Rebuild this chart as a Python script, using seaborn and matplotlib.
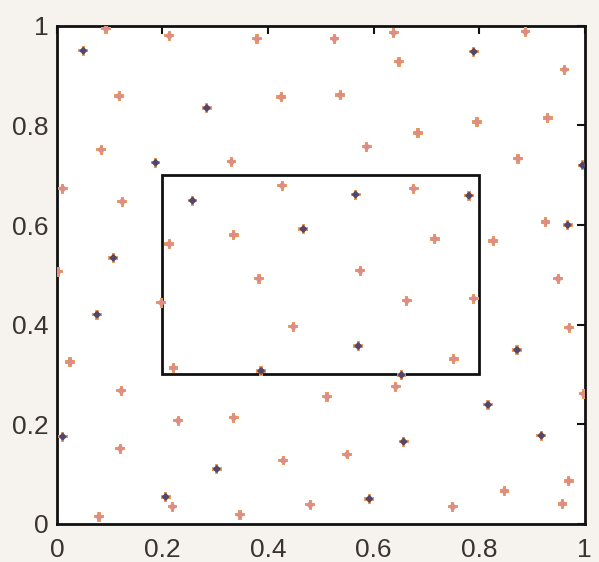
import pandas as pd
import numpy as np
import seaborn as sns
import matplotlib.pyplot as plt
from matplotlib.patches import Rectangle

# point coordinates
light_x = [0.093, 0.213, 0.379, 0.526, 0.638, 0.888, 0.648, 0.962, 0.118, 0.425,
           0.537, 0.796, 0.684, 0.930, 0.084, 0.331, 0.587, 0.874, 0.011, 0.124,
           0.427, 0.676, 0.335, 0.213, 0.716, 0.827, 0.926, 0.002, 0.383, 0.575,
           0.950, 0.198, 0.663, 0.790, 0.448, 0.971, 0.025, 0.221, 0.752, 0.642,
           0.998, 0.512, 0.122, 0.230, 0.335, 0.120, 0.429, 0.550, 0.970, 0.848,
           0.219, 0.080, 0.347, 0.480, 0.750, 0.958]
light_y = [0.994, 0.980, 0.974, 0.974, 0.986, 0.988, 0.928, 0.912, 0.859, 0.857,
           0.861, 0.807, 0.785, 0.815, 0.751, 0.727, 0.757, 0.733, 0.673, 0.647,
           0.679, 0.673, 0.580, 0.562, 0.572, 0.568, 0.606, 0.506, 0.492, 0.508,
           0.492, 0.444, 0.448, 0.452, 0.396, 0.394, 0.325, 0.313, 0.331, 0.275,
           0.261, 0.255, 0.267, 0.207, 0.213, 0.151, 0.127, 0.139, 0.086, 0.066,
           0.034, 0.014, 0.018, 0.038, 0.034, 0.040]

dark_x = [0.050, 0.790, 0.284, 0.187, 0.996, 0.257, 0.566, 0.781, 0.467, 0.968,
          0.107, 0.076, 0.571, 0.872, 0.387, 0.653, 0.817, 0.011, 0.303, 0.657,
          0.918, 0.206, 0.592]
dark_y = [0.950, 0.948, 0.835, 0.725, 0.720, 0.649, 0.661, 0.659, 0.592, 0.600,
          0.534, 0.420, 0.357, 0.349, 0.307, 0.299, 0.239, 0.175, 0.110, 0.165,
          0.177, 0.054, 0.050]

# inner rectangle (x0, y0, x1, y1)
rect = [0.2, 0.3, 0.8, 0.7]

ticks = [0, 0.2, 0.4, 0.6, 0.8, 1]
tick_labels = ['0', '0.2', '0.4', '0.6', '0.8', '1']

df = pd.concat([
    pd.DataFrame({'x': light_x, 'y': light_y, 'kind': 'light'}),
    pd.DataFrame({'x': dark_x, 'y': dark_y, 'kind': 'dark'}),
], ignore_index=True)

sns.set_style('white')
plt.rcParams['font.family'] = ['Liberation Sans', 'DejaVu Sans']

fig = plt.figure(figsize=(5.99, 5.62), dpi=100, facecolor='#f6f3ee')
ax = fig.add_axes([0.095, 0.068, 0.881, 0.886])
ax.set_facecolor('white')

# orange plus underneath, coloured diamond on top
sns.scatterplot(data=df, x='x', y='y', marker='P', s=50, color='#ec9c5a',
                edgecolor='none', ax=ax, legend=False, zorder=3)
sns.scatterplot(data=df, x='x', y='y', hue='kind', marker='D', s=18,
                palette={'light': '#de8c86', 'dark': '#54466a'},
                edgecolor='none', ax=ax, legend=False, zorder=4)

ax.add_patch(Rectangle((rect[0], rect[1]), rect[2] - rect[0], rect[3] - rect[1],
                       fill=False, edgecolor='#111111', linewidth=2, zorder=2))

ax.set_xlim(0, 1)
ax.set_ylim(0, 1)
ax.set_xticks(ticks)
ax.set_yticks(ticks)
ax.set_xticklabels(tick_labels)
ax.set_yticklabels(tick_labels)
ax.set_xlabel('')
ax.set_ylabel('')
ax.tick_params(direction='in', length=6, width=1.5, labelsize=19,
               top=True, right=True, colors='#111111', labelcolor='#3a3430')
ax.tick_params(axis='x', pad=10)
ax.tick_params(axis='y', pad=6)
for s in ax.spines.values():
    s.set_color('#111111')
    s.set_linewidth(2)

fig.savefig('out.png', dpi=100, facecolor=fig.get_facecolor())
